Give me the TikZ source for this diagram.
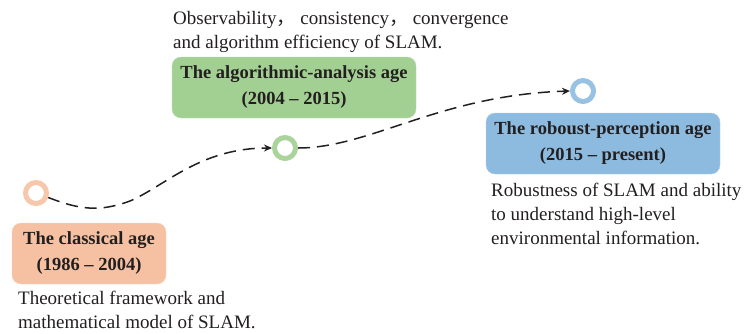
\documentclass[tikz,border=0pt]{standalone}
\usepackage{fontspec}
\setmainfont{Liberation Serif}
\newfontfamily\cjk{Noto Sans CJK SC}
\usetikzlibrary{arrows.meta}
\definecolor{txt}{RGB}{35,31,32}
\definecolor{orfill}{RGB}{245,193,162}
\definecolor{grfill}{RGB}{162,207,146}
\definecolor{blfill}{RGB}{141,187,224}
\tikzset{
  agebox/.style={rounded corners=9pt, minimum height=61pt, align=center,
    font=\fontsize{18.5}{26}\selectfont\bfseries, text=txt, inner sep=0pt},
  ring/.style={circle, line width=5pt, fill=white, minimum size=21pt, inner sep=0pt},
  note/.style={align=left, anchor=north west, inner sep=0pt,
    font=\fontsize{19}{24}\selectfont, text=txt},
  flow/.style={line width=1.5pt, txt, dash pattern=on 12pt off 7pt,
    -{Stealth[length=8pt,width=7pt]}}
}
\begin{document}
\begin{tikzpicture}[x=1pt,y=-1pt]
\useasboundingbox (0,0) rectangle (744,333);

% era boxes
\node[agebox, fill=orfill, draw=orfill!70!white, minimum width=154pt] (b1) at (89,253.5)
  {The classical age\\(1986 -- 2004)};
\node[agebox, fill=grfill, draw=grfill!70!white, minimum width=244pt] (b2) at (294,87.5)
  {The algorithmic-analysis age\\(2004 -- 2015)};
\node[agebox, fill=blfill, draw=blfill!70!white, minimum width=234pt] (b3) at (603,143.5)
  {The roboust-perception age\\(2015 -- present)};

% milestones
\node[ring, draw=orfill!90!white] (c1) at (36,193) {};
\node[ring, draw=grfill!90!white] (c2) at (285,148) {};
\node[ring, draw=blfill!90!white] (c3) at (583,91) {};

% descriptions
\node[note] (t1) at (18,291) {Theoretical framework and\\mathematical model of SLAM.};
\node[note] (t2) at (173,11) {Observability{\cjk ，}\hspace{0.25em}consistency{\cjk ，}\hspace{0.25em}convergence\\and algorithm efficiency of SLAM.};
\node[note] (t3) at (491,183) {Robustness of SLAM and ability\\to understand high-level\\environmental information.};

% timeline
\draw[flow] (c1.-20) .. controls (80,210) and (100,212) .. (130,201)
  .. controls (165,186) and (200,148) .. (c2.west);
\draw[flow] (c2.east) .. controls (370,148) and (440,95) .. (c3.west);
\end{tikzpicture}
\end{document}
